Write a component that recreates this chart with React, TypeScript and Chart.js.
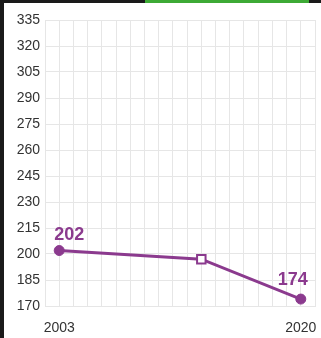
import React, { useEffect, useRef } from "react";
import { Chart, registerables } from "chart.js";

Chart.register(...registerables);

const years = [2003, 2013, 2020];
const values = [202, 197, 174];
const valueLabels = ["202", "", "174"];
const xTickLabels = [2003, 2020];
const yMin = 170;
const yMax = 335;
const yStep = 15;

const PURPLE = "#8b3a8e";

const labelPlugin = {
  id: "valueLabels",
  afterDatasetsDraw(chart: any) {
    const meta = chart.getDatasetMeta(0);
    const ctx = chart.ctx;
    ctx.save();
    ctx.fillStyle = PURPLE;
    ctx.font = "bold 18px 'Liberation Sans', Arial, sans-serif";
    ctx.textBaseline = "alphabetic";
    meta.data.forEach((pt: any, i: number) => {
      const t = valueLabels[i];
      if (!t) return;
      if (i === 0) {
        ctx.textAlign = "left";
        ctx.fillText(t, pt.x - 5, pt.y - 11);
      } else {
        ctx.textAlign = "right";
        ctx.fillText(t, pt.x + 7, pt.y - 14);
      }
    });
    ctx.restore();
  },
};

export default function App() {
  const ref = useRef<HTMLCanvasElement | null>(null);
  useEffect(() => {
    document.body.style.margin = "0";
    const chart = new Chart(ref.current!, {
      type: "line",
      data: {
        datasets: [
          {
            data: years.map((y, i) => ({ x: y, y: values[i] })),
            borderColor: PURPLE,
            borderWidth: 3,
            pointStyle: ["circle", "rect", "circle"] as any,
            pointRadius: [5, 6, 5],
            pointBackgroundColor: [PURPLE, "#ffffff", PURPLE],
            pointBorderColor: PURPLE,
            pointBorderWidth: [1, 2, 1],
            tension: 0,
          },
        ],
      },
      options: {
        animation: false,
        responsive: false,
        maintainAspectRatio: false,
        layout: { padding: { top: 20, right: 3, left: 0, bottom: 0 } },
        plugins: { legend: { display: false }, tooltip: { enabled: false } },
        scales: {
          x: {
            type: "linear",
            min: 2002,
            max: 2021,
            ticks: {
              stepSize: 1,
              autoSkip: false,
              maxRotation: 0,
              padding: 14,
              color: "#333",
              font: { size: 14, family: "'Liberation Sans', Arial, sans-serif" },
              callback: (v: any) => (xTickLabels.includes(Number(v)) ? String(v) : ""),
            },
            grid: { color: "#e6e6e6", drawTicks: false },
            border: { color: "#e6e6e6" },
            afterFit: (s: any) => {
              s.height = 32;
              s.paddingLeft = 0;
              s.paddingRight = 0;
            },
          },
          y: {
            min: yMin,
            max: yMax,
            ticks: {
              stepSize: yStep,
              padding: 5,
              color: "#333",
              font: { size: 14, family: "'Liberation Sans', Arial, sans-serif" },
            },
            grid: { color: "#e6e6e6", drawTicks: false },
            border: { color: "#e6e6e6" },
            afterFit: (s: any) => {
              s.width = 45;
            },
          },
        },
      },
      plugins: [labelPlugin],
    });
    return () => chart.destroy();
  }, []);
  return (
    <div style={{ position: "relative", width: 321, height: 338, background: "#fff", overflow: "hidden" }}>
      <canvas ref={ref} width={321} height={338} style={{ position: "absolute", left: 0, top: 0 }} />
      <div style={{ position: "absolute", left: 0, top: 0, width: 321, height: 3, background: "#1a1a1a" }} />
      <div style={{ position: "absolute", left: 145, top: 0, width: 164, height: 3, background: "#3daa35" }} />
      <div style={{ position: "absolute", left: 0, top: 0, width: 4, height: 338, background: "#1a1a1a" }} />
    </div>
  );
}
